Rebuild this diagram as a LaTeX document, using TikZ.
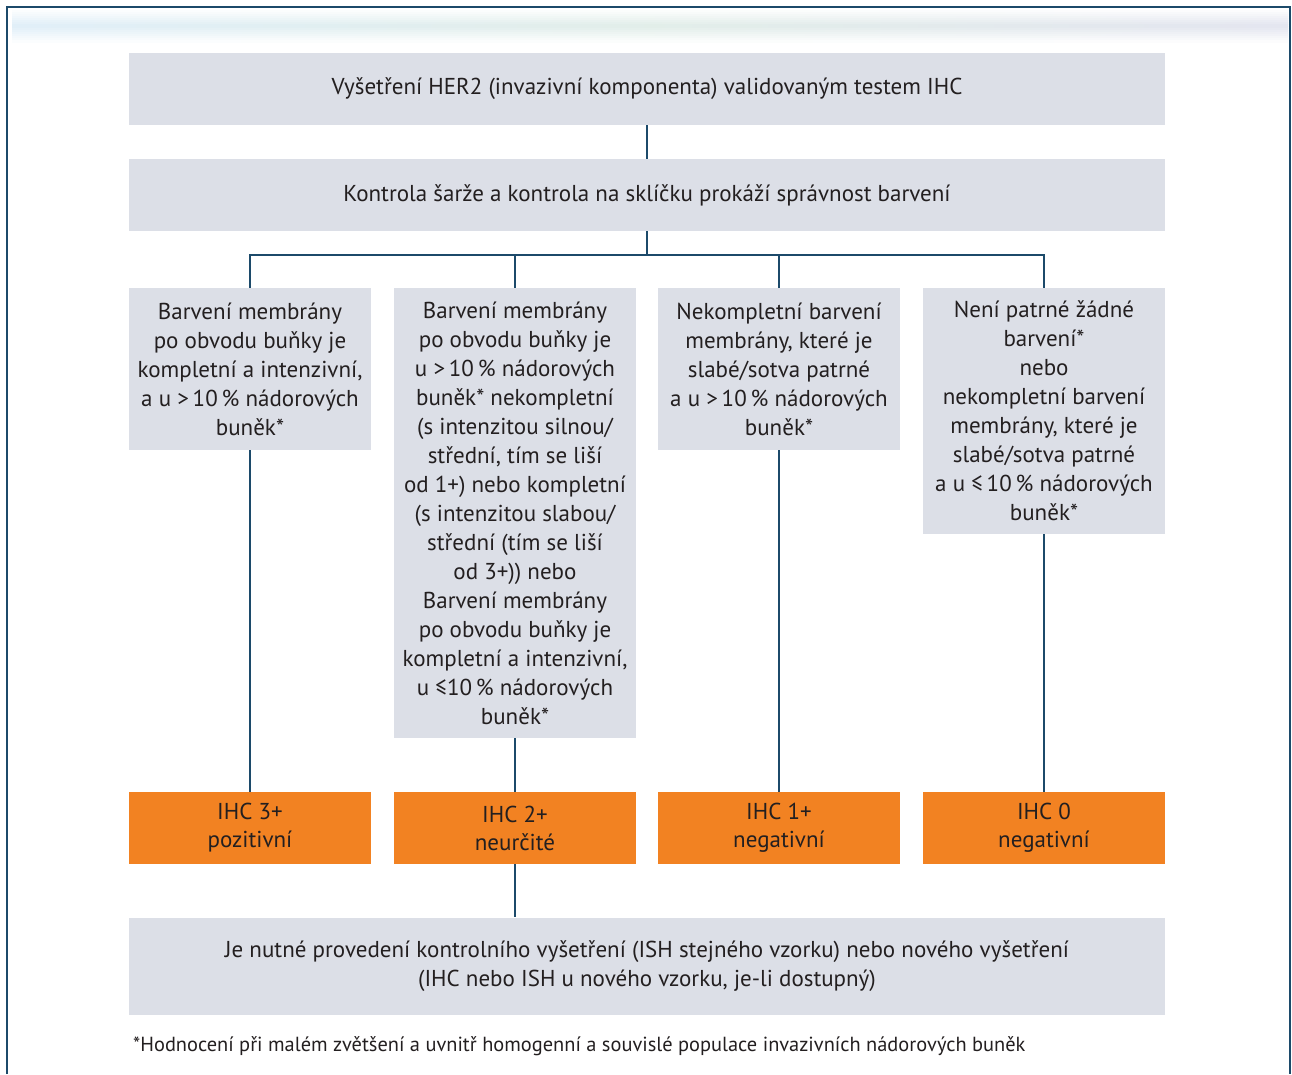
\documentclass[tikz,border=0pt]{standalone}
\usepackage{fontspec}
\setmainfont{PT Sans}
\usepackage{xcolor}
\usepackage{tikz}

\definecolor{boxgray}{HTML}{DCDFE7}
\definecolor{ihcorange}{HTML}{F28222}
\definecolor{linkblue}{HTML}{1C4A6A}
\definecolor{inktext}{HTML}{231F20}
\definecolor{bandblue}{HTML}{DFEEF8}
\definecolor{bandgreen}{HTML}{E0EDE8}
\definecolor{bandlilac}{HTML}{E2E4EF}

\begin{document}
\begin{tikzpicture}[x=1pt, y=-1pt,
        graybox/.style={fill=boxgray, text=inktext, align=center, inner sep=0pt,
            font=\fontsize{23}{29}\selectfont},
        ihcbox/.style={fill=ihcorange, text=inktext, align=center, inner sep=0pt,
            minimum width=242, minimum height=72, font=\fontsize{23}{28}\selectfont},
        link/.style={draw=linkblue, line width=1.4pt}]
        \useasboundingbox (0,0) rectangle (1292,1074);

        % frame and top band
        \foreach \k in {0,...,15}{
            \pgfmathsetmacro{\p}{100*(1-abs(\k-7.5)/8.5)}
            \fill[left color=bandblue!\p!white, right color=bandlilac!\p!white, middle color=bandgreen!\p!white]
                (12,10+2*\k) rectangle (1288,12.5+2*\k);
        }
        \draw[linkblue, line width=1.3pt] (7,1074) -- (7,7) -- (1290,7) -- (1290,1074);

        \node[graybox, minimum width=1036, minimum height=72] (test) at (647,89) {Vyšetření HER2 (invazivní komponenta) validovaným testem IHC};
        \node[graybox, minimum width=1036, minimum height=72] (ctrl) at (647,195) {Kontrola šarže a kontrola na sklíčku prokáží správnost barvení};

        \node[graybox, minimum width=242, minimum height=162] (c1) at (250,369) {Barvení membrány\\po obvodu buňky je\\kompletní a intenzivní,\\a u >\,10\,\% nádorových\\buněk*};
        \node[graybox, minimum width=242, minimum height=450] (c2) at (515,513) {Barvení membrány\\po obvodu buňky je\\u >\,10\,\% nádorových\\buněk* nekompletní\\(s intenzitou silnou/\\střední, tím se liší\\od 1+) nebo kompletní\\(s intenzitou slabou/\\střední (tím se liší\\od 3+)) nebo\\Barvení membrány\\po obvodu buňky je\\kompletní a intenzivní,\\u ≤10\,\% nádorových\\buněk*};
        \node[graybox, minimum width=242, minimum height=162] (c3) at (779,369) {Nekompletní barvení\\membrány, které je\\slabé/sotva patrné\\a u >\,10\,\% nádorových\\buněk*};
        \node[graybox, minimum width=242, minimum height=246] (c4) at (1044,411) {Není patrné žádné\\barvení*\\nebo\\nekompletní barvení\\membrány, které je\\slabé/sotva patrné\\a u ≤\,10\,\% nádorových\\buněk*};

        \node[ihcbox] (r1) at (250,828) {IHC 3+\\pozitivní};
        \node[ihcbox] (r2) at (515,828) {IHC 2+\\neurčité};
        \node[ihcbox] (r3) at (779,828) {IHC 1+\\negativní};
        \node[ihcbox] (r4) at (1044,828) {IHC 0\\negativní};

        \node[graybox, minimum width=1036, minimum height=97] (retest) at (647,966) {Je nutné provedení kontrolního vyšetření (ISH stejného vzorku) nebo nového vyšetření\\(IHC nebo ISH u nového vzorku, je-li dostupný)};

        \node[anchor=west, text=inktext, inner sep=0pt, font=\fontsize{20.4}{24}\selectfont] (note) at (133,1046) {*Hodnocení při malém zvětšení a uvnitř homogenní a souvislé populace invazivních nádorových buněk};

        \coordinate (split) at (647,255);
        \draw[link] (test) -- (ctrl);
        \draw[link] (ctrl) -- (split);
        \draw[link] (split) -| (c1.north);
        \draw[link] (split) -| (c2.north);
        \draw[link] (split) -| (c3.north);
        \draw[link] (split) -| (c4.north);
        \draw[link] (c1) -- (r1);
        \draw[link] (c2) -- (r2);
        \draw[link] (c3) -- (r3);
        \draw[link] (c4) -- (r4);
        \draw[link] (r2.south) -- (r2.south |- retest.north);
    \end{tikzpicture}
\end{document}
